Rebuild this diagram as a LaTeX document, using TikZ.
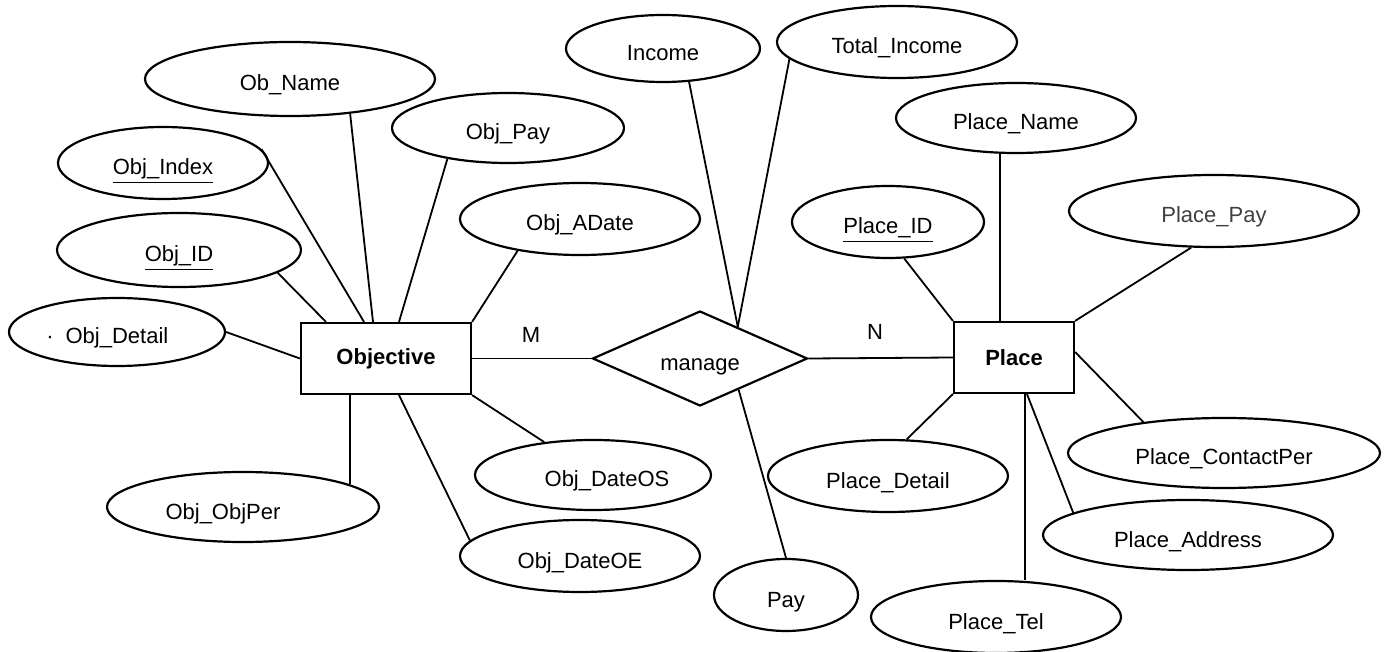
\documentclass[tikz,border=0pt]{standalone}
\usepackage{fontspec}
\setmainfont{Liberation Sans}
\usetikzlibrary{shapes.geometric}
\begin{document}
\begin{tikzpicture}[x=0.5pt,y=-0.5pt,
  lbl/.style={font=\fontsize{11}{13}\selectfont},
  attr/.style={lbl, ellipse, draw, line width=1.1pt, inner sep=0pt, text height=12pt, text depth=0pt},
  entity/.style={lbl, rectangle, draw, line width=1.1pt, inner sep=0pt, font=\fontsize{11}{13}\selectfont\bfseries},
  rel/.style={lbl, diamond, draw, line width=1.1pt, inner sep=0pt, aspect=2.3,
              text height=12pt, text depth=0pt,
              minimum width=107.5pt, minimum height=47.5pt},
  link/.style={line width=0.9pt},
  card/.style={lbl}]
\useasboundingbox (0,0) rectangle (1394,652);

% entities and relationship
\node[entity, minimum width=85pt, minimum height=35.5pt] (objective) at (386,358.5) {Objective};
\node[entity, minimum width=60pt, minimum height=35.5pt] (place) at (1014,357.5) {Place};
\node[rel] (manage) at (700,358.5) {manage};
\node[card] (m) at (531,335) {M};
\node[card] (n) at (875,332) {N};

% attributes of Objective
\node[attr, minimum width=145pt, minimum height=37pt] (obname) at (290,79) {Ob\_Name};
\node[attr, minimum width=116pt, minimum height=35pt] (objpay) at (508,128) {Obj\_Pay};
\node[attr, minimum width=105pt, minimum height=36pt] (objindex) at (163,163) {\underline{Obj\_Index}};
\node[attr, minimum width=122pt, minimum height=37pt] (objid) at (179,250) {\underline{Obj\_ID}};
\node[attr, minimum width=120pt, minimum height=36pt] (objadate) at (580,219) {Obj\_ADate};
\node[attr, minimum width=108pt, minimum height=34pt] (objdetail) at (117,332) {\llap{\textperiodcentered\hspace{6pt}}Obj\_Detail};
\node[attr, minimum width=136pt, minimum height=35pt] (objobjper) at (243,507) {Obj\_ObjPer\hspace*{20pt}};
\node[attr, minimum width=118pt, minimum height=35pt] (objdateos) at (593,475) {\hspace*{14pt}Obj\_DateOS};
\node[attr, minimum width=120pt, minimum height=36pt] (objdateoe) at (580,556) {Obj\_DateOE};

% attributes of manage
\node[attr, minimum width=97pt, minimum height=33.5pt] (income) at (663,48.5) {Income};
\node[attr, minimum width=120pt, minimum height=36pt] (totalincome) at (897,42) {Total\_Income};
\node[attr, minimum width=72pt, minimum height=36pt] (pay) at (786,595) {Pay};

% attributes of Place
\node[attr, minimum width=120pt, minimum height=35pt] (placename) at (1016,118) {Place\_Name};
\node[attr, minimum width=96pt, minimum height=36pt] (placeid) at (888,222) {\underline{Place\_ID}};
\node[attr, minimum width=145pt, minimum height=36pt, text=black!75] (placepay) at (1214,211) {Place\_Pay};
\node[attr, minimum width=120pt, minimum height=36pt] (placedetail) at (888,476) {Place\_Detail};
\node[attr, minimum width=125pt, minimum height=36pt] (placetel) at (996,617) {Place\_Tel};
\node[attr, minimum width=145pt, minimum height=35pt] (placeaddress) at (1188,535) {Place\_Address};
\node[attr, minimum width=156pt, minimum height=35pt] (placecontact) at (1224,453) {Place\_ContactPer};

% Objective connectors
\draw[link] (objindex.8) -- ([xshift=-11pt]objective.north);
\draw[link] (obname.-30) -- ([xshift=-6.5pt]objective.north);
\draw[link] (objpay.-153) -- ([xshift=6.5pt]objective.north);
\draw[link] (objid.-13) -- ([xshift=-30pt]objective.north);
\draw[link] (objadate.-153) -- (objective.north east);
\draw[link] (objdetail.east) -- (objective.west);
\draw[link] ([xshift=-18pt]objective.south) -- ([xshift=-18pt]objective.south |- objobjper.12);
\draw[link] (objective.south east) -- (objdateos.146);
\draw[link] ([xshift=6.5pt]objective.south) -- (objdateoe.172);

% relationship connectors
\draw[link] (objective.east) -- (manage.west);
\draw[link] (manage.east) -- (place.west);
\draw[link] (income.-52) -- (manage.40);
\draw[link] (totalincome.-171) -- (manage.40);
\draw[link] (manage.-39) -- (pay.north);

% Place connectors
\draw[link] ([xshift=-7pt]place.north) -- ([xshift=-7pt]place.north |- placename.south);
\draw[link] (placeid.-66) -- (place.north west);
\draw[link] (placepay.-122) -- (place.north east);
\draw[link] (placedetail.63) -- (place.south west);
\draw[link] ([xshift=5.5pt]place.south) -- ([xshift=5.5pt]place.south |- placetel.north);
\draw[link] ([xshift=6.5pt]place.south) -- (placeaddress.169);
\draw[link] ([yshift=2.75pt]place.east) -- (placecontact.159);
\end{tikzpicture}
\end{document}
